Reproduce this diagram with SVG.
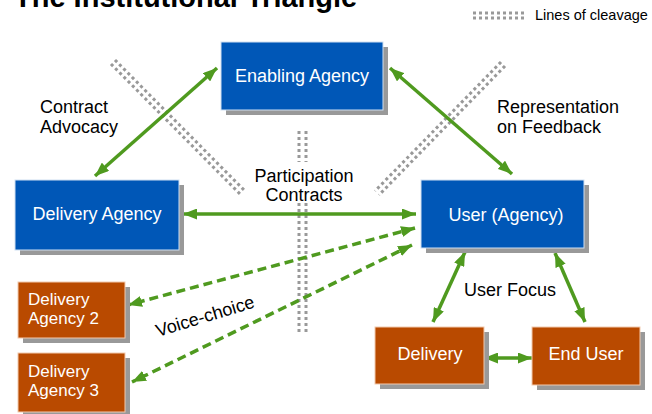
<svg xmlns="http://www.w3.org/2000/svg" width="652" height="414" viewBox="0 0 652 414">
  <style>
    .title { font-family: "Liberation Sans", Arial, sans-serif; font-weight: bold; font-size: 29px; fill: #000; }
    .lbl { font-family: "Liberation Sans", Arial, sans-serif; font-size: 18px; fill: #000; }
    .legend { font-family: "Liberation Sans", Arial, sans-serif; font-size: 14.5px; fill: #000; }
    .btxt { font-family: "Liberation Sans", Arial, sans-serif; font-size: 18px; fill: #fff; }
    .btxt2 { font-family: "Liberation Sans", Arial, sans-serif; font-size: 17px; fill: #fff; }
    .shadow { fill: #999; }
    .blue { fill: #0057b7; stroke: #cfe0f2; stroke-width: 1; }
    .orange { fill: #b94a00; stroke: #f2c9ad; stroke-width: 1; }
    .cleave { stroke: #999; stroke-width: 3; stroke-dasharray: 3 3; fill: none; }
    .link { stroke: #4f9a1f; stroke-width: 3.5; fill: none; marker-start: url(#head); marker-end: url(#head); }
    .dashed { stroke-dasharray: 9 5; }
  </style>
  <defs>
    <marker id="head" viewBox="0 0 14 11" refX="14" refY="5.5" markerWidth="14" markerHeight="11" markerUnits="userSpaceOnUse" orient="auto-start-reverse">
      <path d="M0,0 L14,5.5 L0,11 z" fill="#4f9a1f"/>
    </marker>
  </defs>

  <rect width="652" height="414" fill="#fff"/>

  <!-- title and legend -->
  <text class="title" x="14" y="7">The Institutional Triangle</text>
  <g id="legend">
    <line class="cleave" x1="473" y1="13" x2="527" y2="13"/>
    <line class="cleave" x1="473" y1="18" x2="527" y2="18"/>
    <text class="legend" x="535" y="20">Lines of cleavage</text>
  </g>

  <!-- lines of cleavage -->
  <g id="cleavage">
    <line class="cleave" x1="115" y1="60" x2="244" y2="190"/>
    <line class="cleave" x1="111" y1="64" x2="240" y2="194"/>
    <line class="cleave" x1="505" y1="66" x2="379" y2="195"/>
    <line class="cleave" x1="501" y1="62" x2="375" y2="191"/>
    <line class="cleave" x1="299" y1="131" x2="299" y2="162"/>
    <line class="cleave" x1="306" y1="131" x2="306" y2="162"/>
    <line class="cleave" x1="299" y1="203" x2="299" y2="334"/>
    <line class="cleave" x1="306" y1="203" x2="306" y2="334"/>
  </g>

  <!-- connectors -->
  <g id="connectors">
    <line class="link" x1="217" y1="68" x2="95" y2="176"/>
    <line class="link" x1="390" y1="68" x2="512" y2="174"/>
    <line class="link" x1="183" y1="214" x2="416" y2="214"/>
    <line class="link dashed" x1="415" y1="228" x2="128" y2="305"/>
    <line class="link dashed" x1="412" y1="245" x2="132" y2="382"/>
    <line class="link" x1="465" y1="252" x2="433" y2="322"/>
    <line class="link" x1="555" y1="253" x2="585" y2="322"/>
    <line class="link" x1="484" y1="358" x2="532" y2="358"/>
  </g>

  <!-- connector labels -->
  <g id="labels">
    <text class="lbl" x="40" y="113">Contract</text>
    <text class="lbl" x="40" y="133">Advocacy</text>
    <text class="lbl" x="497" y="113">Representation</text>
    <text class="lbl" x="497" y="133">on Feedback</text>
    <text class="lbl" x="304" y="182" text-anchor="middle">Participation</text>
    <text class="lbl" x="304" y="201" text-anchor="middle">Contracts</text>
    <text class="lbl" x="510" y="296" text-anchor="middle">User Focus</text>
    <text class="lbl" x="158" y="337" transform="rotate(-17 158 337)">Voice-choice</text>
  </g>

  <!-- nodes -->
  <g id="enabling-agency">
    <rect class="shadow" x="226" y="47" width="162" height="68"/>
    <rect class="blue" x="221" y="42" width="162" height="68"/>
    <text class="btxt" x="302" y="82" text-anchor="middle">Enabling Agency</text>
  </g>
  <g id="delivery-agency">
    <rect class="shadow" x="20" y="185" width="164" height="70"/>
    <rect class="blue" x="15" y="180" width="164" height="70"/>
    <text class="btxt" x="97" y="220" text-anchor="middle">Delivery Agency</text>
  </g>
  <g id="user-agency">
    <rect class="shadow" x="426" y="185" width="163" height="68"/>
    <rect class="blue" x="421" y="180" width="163" height="68"/>
    <text class="btxt" x="506" y="221" text-anchor="middle">User (Agency)</text>
  </g>
  <g id="delivery-agency-2">
    <rect class="shadow" x="23" y="287" width="107" height="56"/>
    <rect class="orange" x="18" y="282" width="107" height="56"/>
    <text class="btxt2" x="28" y="305">Delivery</text>
    <text class="btxt2" x="28" y="324">Agency 2</text>
  </g>
  <g id="delivery-agency-3">
    <rect class="shadow" x="23" y="358" width="107" height="59"/>
    <rect class="orange" x="18" y="353" width="107" height="59"/>
    <text class="btxt2" x="28" y="377">Delivery</text>
    <text class="btxt2" x="28" y="396">Agency 3</text>
  </g>
  <g id="delivery">
    <rect class="shadow" x="380" y="332" width="109" height="57"/>
    <rect class="orange" x="375" y="327" width="109" height="57"/>
    <text class="btxt" x="430" y="360" text-anchor="middle">Delivery</text>
  </g>
  <g id="end-user">
    <rect class="shadow" x="537" y="332" width="108" height="58"/>
    <rect class="orange" x="532" y="327" width="108" height="58"/>
    <text class="btxt" x="586" y="360" text-anchor="middle">End User</text>
  </g>
</svg>
